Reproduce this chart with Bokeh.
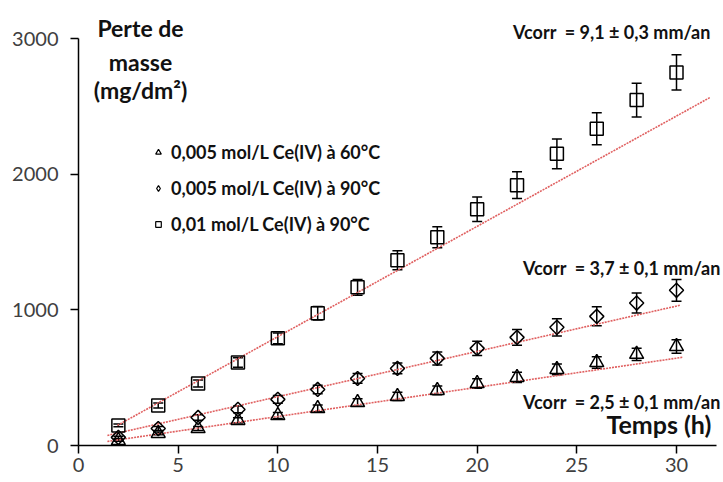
from bokeh.plotting import figure
from bokeh.models import (ColumnDataSource, Whisker, TeeHead, Label, Legend,
                          LegendItem, FixedTicker, Range1d)
from bokeh.embed import file_html
from bokeh.resources import INLINE
import math

# ---------------- data ----------------
temps = [2, 4, 6, 8, 10, 12, 14, 16, 18, 20, 22, 24, 26, 28, 30]

# 0.01 mol/L Ce(IV) à 90°C (squares)
sq_val = [148, 295, 457, 612, 790, 975, 1166, 1365, 1535, 1742, 1919, 2150, 2335, 2546, 2750]
sq_err = [10, 18, 25, 35, 40, 50, 58, 70, 77, 90, 98, 110, 118, 125, 130]

# 0.005 mol/L Ce(IV) à 90°C (diamonds)
di_val = [60, 125, 207, 266, 340, 413, 494, 568, 642, 716, 797, 871, 952, 1050, 1144]
di_err = [8, 15, 20, 25, 28, 32, 36, 40, 48, 52, 58, 64, 70, 74, 80]

# 0.005 mol/L Ce(IV) à 60°C (triangles)
tr_val = [37, 89, 125, 185, 221, 273, 317, 362, 406, 457, 502, 561, 612, 672, 730]
tr_err = [5, 10, 15, 20, 22, 25, 28, 30, 32, 35, 38, 40, 43, 45, 50]

# linear fits: slope, intercept, t start, t end
fit_sq = [81.3, -10.5, 1.95, 31.7]
fit_di = [33.4, 25.7, 1.45, 30.2]
fit_tr = [21.5, -1.2, 1.45, 30.3]

legend_labels = ["0,005 mol/L Ce(IV) à 60°C",
                 "0,005 mol/L Ce(IV) à 90°C",
                 "0,01 mol/L Ce(IV) à 90°C"]
vcorr_labels = ["Vcorr\u00a0\u00a0= 9,1 ± 0,3 mm/an",
                "Vcorr\u00a0\u00a0= 3,7 ± 0,1 mm/an",
                "Vcorr\u00a0\u00a0= 2,5 ± 0,1 mm/an"]
x_ticks = [0, 5, 10, 15, 20, 25, 30]
y_ticks = [0, 1000, 2000, 3000]

FONT = "Lato"
TXT = "#111111"

W, H = 723, 482
LEFT, TOP, BOTTOM = 78, 11, 445          # frame edges in page pixels
Y3000 = 38                                # page y of the 3000 tick
X30 = 676                                 # page x of the 30 tick
y_end = 3000 * (BOTTOM - TOP) / (BOTTOM - Y3000)
x_end = 30 * (W - LEFT) / (X30 - LEFT)

p = figure(width=W, height=H, output_backend="svg", toolbar_location=None,
           x_range=Range1d(0, x_end), y_range=Range1d(0, y_end),
           min_border_left=LEFT, min_border_top=TOP, min_border_right=0,
           min_border_bottom=H - BOTTOM)
p.outline_line_color = None
p.xgrid.visible = False
p.ygrid.visible = False
p.background_fill_color = "white"
p.border_fill_color = "white"

for ax in (p.xaxis[0], p.yaxis[0]):
    ax.axis_line_color = "black"
    ax.axis_line_width = 1.5
    ax.major_tick_line_color = "black"
    ax.major_tick_line_width = 1.5
    ax.major_tick_out = 8
    ax.major_tick_in = 0
    ax.minor_tick_line_color = None
    ax.major_label_text_font = FONT
    ax.major_label_text_font_size = "20px"
    ax.major_label_text_color = "#404040"
p.xaxis.ticker = FixedTicker(ticks=x_ticks)
p.yaxis.ticker = FixedTicker(ticks=y_ticks)
p.xaxis.bounds = (0, 32)
p.yaxis.bounds = (0, 3000)
p.xaxis.major_label_standoff = 4
p.yaxis.major_label_standoff = 12

red = "#e06060"

def fit_line(f):
    ts = [f[2], f[3]]
    return ts, [f[0] * t + f[1] for t in ts]

for f in (fit_sq, fit_di, fit_tr):
    xs, ys = fit_line(f)
    p.line(xs, ys, line_color=red, line_width=1.6, line_dash="2 1")

def series(vals, errs, marker, size, angle=0.0):
    src = ColumnDataSource(dict(
        t=temps, v=vals,
        lo=[v - e for v, e in zip(vals, errs)],
        hi=[v + e for v, e in zip(vals, errs)]))
    w = Whisker(base="t", lower="lo", upper="hi", source=src,
                line_color="black", line_width=1.5,
                upper_head=TeeHead(size=10, line_color="black", line_width=1.5),
                lower_head=TeeHead(size=10, line_color="black", line_width=1.5))
    p.add_layout(w)
    r = p.scatter("t", "v", source=src, marker=marker, size=size, angle=angle,
                  fill_color=None, line_color="black", line_width=1.5)
    return r

r_tr = series(tr_val, tr_err, "triangle", 14)
r_di = series(di_val, di_err, "square", 10, angle=math.pi / 4)
r_sq = series(sq_val, sq_err, "square", 13)

# legend-only renderers (smaller markers, nothing drawn in the plot area)
nan = float("nan")
lg_tr = p.scatter([nan], [nan], marker="triangle", size=16, fill_color=None, line_color="black", line_width=1.2)
lg_di = p.scatter([nan], [nan], marker="diamond", size=17, fill_color=None, line_color="black", line_width=1.2)
lg_sq = p.scatter([nan], [nan], marker="square", size=12, fill_color=None, line_color="black", line_width=1.2)

legend = Legend(items=[LegendItem(label=legend_labels[0], renderers=[lg_tr]),
                       LegendItem(label=legend_labels[1], renderers=[lg_di]),
                       LegendItem(label=legend_labels[2], renderers=[lg_sq])],
                location=(73, 209), orientation="vertical",
                background_fill_alpha=0, border_line_color=None,
                padding=0, margin=0, spacing=12,
                glyph_width=14, glyph_height=24, label_height=24,
                label_standoff=6, label_text_font=FONT,
                label_text_font_size="18px", label_text_font_style="bold",
                label_text_color=TXT, label_text_baseline="middle")
p.add_layout(legend, "center")

# y axis title inside plot
for txt, yv in (("Perte de", 3081), ("masse", 2830), ("(mg/dm²)", 2617)):
    p.add_layout(Label(x=3.11, y=yv, text=txt, text_align="center", text_baseline="middle",
                       text_font=FONT, text_font_size="23px", text_font_style="bold",
                       text_color=TXT))
p.add_layout(Label(x=31.75, y=155, text="Temps (h)", text_align="right", text_baseline="middle",
                   text_font=FONT, text_font_size="25px", text_font_style="bold",
                   text_color=TXT))

for txt, xv, yv in zip(vcorr_labels, (31.7, 32.2, 32.2), (3051, 1312, 317)):
    p.add_layout(Label(x=xv, y=yv, text=txt, text_align="right", text_baseline="middle",
                       text_font=FONT, text_font_size="18px", text_font_style="bold",
                       text_color=TXT))

open("out.html", "w").write(file_html(p, INLINE))
